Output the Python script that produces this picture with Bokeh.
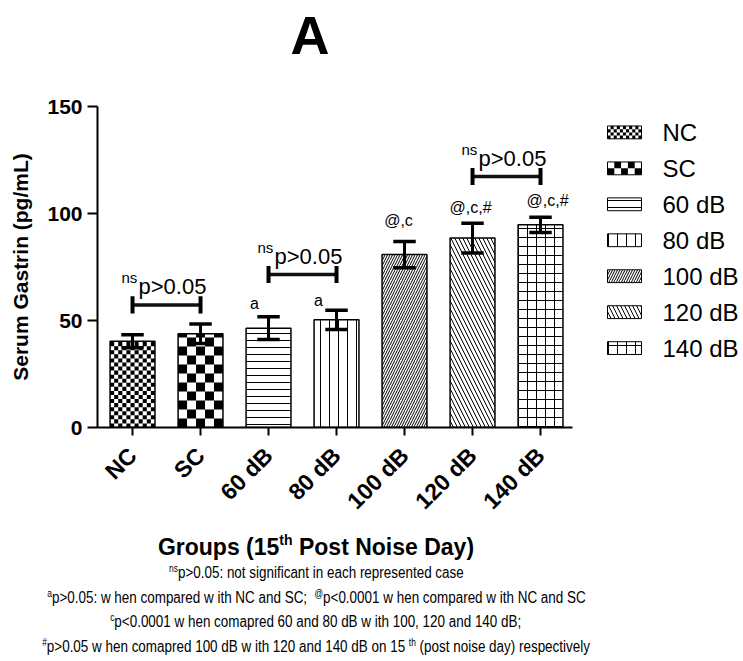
import numpy as np
from math import pi
from bokeh.plotting import figure
from bokeh.models import Range1d, FixedTicker, Div, ColumnDataSource
from bokeh.layouts import column
from bokeh.embed import file_html
from bokeh.resources import INLINE
from bokeh.core.properties import value

# ---------------- data ----------------
groups = ["NC", "SC", "60 dB", "80 dB", "100 dB", "120 dB", "140 dB"]
means = [40.3, 43.8, 46.4, 50.3, 80.8, 88.5, 94.7]
sems = [3.0, 4.6, 5.3, 4.5, 6.1, 7.0, 3.6]
sig_letters = ["", "", "a", "a", "@,c", "@,c,#", "@,c,#"]
ns_pairs = [(0, 1), (2, 3), (5, 6)]
ns_heights = [57.3, 71.5, 117.3]
ns_sup = "ns"
ns_text = "p>0.05"
y_ticks = [0, 50, 100, 150]
title_text = "A"
y_title = "Serum Gastrin (pg/mL)"
x_title = ("Groups (15", "th", " Post Noise Day)")
footnotes = [
    [("ns", True), ("p&gt;0.05: not significant in each represented case", False)],
    [("a", True), ("p&gt;0.05: w hen compared w ith NC and SC;&nbsp; ", False), ("@", True),
     ("p&lt;0.0001 w hen compared w ith NC and SC", False)],
    [("c", True), ("p&lt;0.0001 w hen comapred 60 and 80 dB w ith 100, 120 and 140 dB;", False)],
    [("#", True), ("p&gt;0.05 w hen comapred 100 dB w ith 120 and 140 dB on 15 ", False), ("th", True),
     (" (post noise day) respectively", False)],
]

# ---------------- styles ----------------
patterns = [" ", " ", "horizontal_line", "vertical_line", "right_diagonal_line", "left_diagonal_line", "cross"]
hatch_scales = [8, 8, 7, 9, 5, 8, 9]
checker = {0: (11, 1.9), 1: (5, 4.2)}          # bar index -> (columns, cell height in data units)
legend_checker = {0: (11, 1.5), 1: (5, 3.0)}
bar_w = 0.66
cap_w = 0.165
letter_dx = [0, 0, -14, -18, -6, -2, 7]
letter_dy = [0, 0, -13, -10, -21, -16, -17]
FONT = "Liberation Sans"

n = len(groups)
xs = np.arange(1, n + 1, dtype=float)
means_a = np.array(means)
sems_a = np.array(sems)
hi = means_a + sems_a
lo = means_a - sems_a

W = 740
TOP_H = 70                 # height of the title strip above the figure
FRAME_TOP, FRAME_BOT = 106, 427
FIG_BOTTOM = 532           # page y where the figure ends
FIG_H = FIG_BOTTOM - TOP_H
x_start = 0.485
x_end = x_start + (W - 97) / 68.0

p = figure(width=W, height=FIG_H, x_range=Range1d(x_start, x_end), y_range=Range1d(0, 150),
           output_backend="svg", toolbar_location=None,
           min_border_left=97, min_border_right=0, min_border_top=FRAME_TOP - TOP_H,
           min_border_bottom=FIG_BOTTOM - FRAME_BOT)
p.outline_line_color = None
p.grid.visible = False

xa = p.xaxis[0]
xa.ticker = FixedTicker(ticks=list(xs))
xa.major_label_overrides = {int(x): g for x, g in zip(xs, groups)}
xa.bounds = (x_start, n + 0.47)
xa.minor_tick_line_color = None
xa.major_tick_out = 8
xa.major_tick_in = 0
xa.major_tick_line_width = 2
xa.axis_line_width = 2
xa.major_label_orientation = pi / 4
xa.major_label_text_font = FONT
xa.major_label_text_font_style = "bold"
xa.major_label_text_font_size = "23px"
xa.major_label_text_color = "black"
xa.major_label_standoff = 16

ya = p.yaxis[0]
ya.ticker = FixedTicker(ticks=y_ticks)
ya.minor_tick_line_color = None
ya.major_tick_out = 10
ya.major_tick_in = 0
ya.major_tick_line_width = 2
ya.axis_line_width = 2
ya.major_label_text_font = FONT
ya.major_label_text_font_style = "bold"
ya.major_label_text_font_size = "21px"
ya.major_label_text_color = "black"
ya.major_label_standoff = 5
ya.axis_label = y_title
ya.axis_label_text_font = FONT
ya.axis_label_text_font_style = "bold"
ya.axis_label_text_font_size = "21px"
ya.axis_label_text_color = "black"
ya.axis_label_standoff = 12


def checker_quads(x0, x1, y0, y1, ncols, ch):
    L, R, B, T = [], [], [], []
    cw = (x1 - x0) / ncols
    nrows = int(np.ceil((y1 - y0) / ch))
    for r in range(nrows):
        for c in range(ncols):
            if (r + c) % 2 == 0:
                L.append(x0 + c * cw)
                R.append(x0 + (c + 1) * cw)
                B.append(y0 + r * ch)
                T.append(min(y0 + (r + 1) * ch, y1))
    return L, R, B, T


# bars (hatched)
src = ColumnDataSource(dict(x=xs, top=means_a, pat=patterns, sc=hatch_scales))
p.vbar(x="x", top="top", width=bar_w, source=src, fill_color="white", line_color=None,
       hatch_pattern="pat", hatch_scale="sc", hatch_color="black", hatch_weight=1)
# checker fills
for i, (nc, ch) in checker.items():
    L, R, B, T = checker_quads(xs[i] - bar_w / 2, xs[i] + bar_w / 2, 0, means[i], nc, ch)
    p.quad(left=L, right=R, bottom=B, top=T, fill_color="black", line_color=None)
# outlines
p.vbar(x=xs, top=means_a, width=bar_w, fill_color=None, line_color="black", line_width=1.5)

# error bars
p.segment(x0=xs, y0=lo, x1=xs, y1=hi, line_color="black", line_width=3)
p.segment(x0=xs - cap_w, y0=hi, x1=xs + cap_w, y1=hi, line_color="black", line_width=3.5)
p.segment(x0=xs - cap_w, y0=lo, x1=xs + cap_w, y1=lo, line_color="black", line_width=3.5)

# significance letters
p.text(x=xs, y=hi, text=sig_letters, x_offset=letter_dx, y_offset=letter_dy,
       text_align="center", text_baseline="middle", text_font=value(FONT),
       text_font_size="16px", text_color="black")

# ns brackets
bx0 = np.array([xs[a] for a, b in ns_pairs])
bx1 = np.array([xs[b] for a, b in ns_pairs])
bh = np.array(ns_heights)
p.segment(x0=bx0, y0=bh, x1=bx1, y1=bh, line_color="#111111", line_width=3.5)
p.segment(x0=bx0, y0=bh - 4, x1=bx0, y1=bh + 4, line_color="black", line_width=4)
p.segment(x0=bx1, y0=bh - 4, x1=bx1, y1=bh + 4, line_color="black", line_width=4)
bc = (bx0 + bx1) / 2
p.text(x=bc, y=bh, text=[ns_text] * len(bc), x_offset=-28, y_offset=-18, text_align="left",
       text_baseline="alphabetic", text_font=value(FONT), text_font_size="22px", text_color="black")
p.text(x=bc, y=bh, text=[ns_sup] * len(bc), x_offset=-45, y_offset=-27, text_align="left",
       text_baseline="alphabetic", text_font=value(FONT), text_font_size="15px", text_color="black")

# legend (drawn inside the wide frame)
leg_x0, leg_x1, leg_tx = 7.985, 8.485, 8.794
leg_y0, leg_step, leg_h = 137.9, 16.8, 3.0
ly = leg_y0 - leg_step * np.arange(n)
lsrc = ColumnDataSource(dict(l=[leg_x0] * n, r=[leg_x1] * n, b=ly - leg_h, t=ly + leg_h,
                             pat=patterns, sc=hatch_scales))
p.quad(left="l", right="r", bottom="b", top="t", source=lsrc, fill_color="white", line_color=None,
       hatch_pattern="pat", hatch_scale="sc", hatch_color="black", hatch_weight=1)
for i, (nc, ch) in legend_checker.items():
    L, R, B, T = checker_quads(leg_x0, leg_x1, ly[i] - leg_h, ly[i] + leg_h, nc, ch)
    p.quad(left=L, right=R, bottom=B, top=T, fill_color="black", line_color=None)
p.quad(left=[leg_x0] * n, right=[leg_x1] * n, bottom=ly - leg_h, top=ly + leg_h,
       fill_color=None, line_color="black", line_width=1)
p.text(x=[leg_tx] * n, y=ly, text=groups, text_align="left", text_baseline="middle",
       text_font=value(FONT), text_font_size="24px", text_color="black")

# panel title strip
title_div = Div(text=(f'<div style="width:620px;text-align:center;font-family:\'Liberation Sans\',Arial,sans-serif;'
                      f'font-weight:bold;font-size:54px;line-height:{TOP_H}px;color:#000;">{title_text}</div>'),
                width=W, height=TOP_H, margin=(0, 0, 0, 0))

# x-axis title and footnotes
sup_style = "font-size:10px;vertical-align:6px;line-height:0"
lines_html = []
for parts in footnotes:
    s = ""
    for t, sup in parts:
        s += f'<span style="{sup_style}">{t}</span>' if sup else t
    lines_html.append('<div style="font-size:16px;line-height:24.5px;white-space:nowrap;display:flex;justify-content:center">'
                      f'<span style="display:inline-block;transform:scaleX(0.84)">{s}</span></div>')
top_gap = 534 - FIG_BOTTOM
html = (f'<div style="width:632px;font-family:\'Liberation Sans\',Arial,sans-serif;color:#000;">'
        f'<div style="font-weight:bold;font-size:23px;line-height:26px;margin-top:{top_gap}px;margin-bottom:1px;'
        f'white-space:nowrap;display:flex;justify-content:center"><span>{x_title[0]}'
        f'<span style="font-size:14px;vertical-align:10px;line-height:0">{x_title[1]}</span>{x_title[2]}</span></div>'
        + "".join(lines_html) + '</div>')
div = Div(text=html, width=W, height=661 - FIG_BOTTOM, margin=(0, 0, 0, 0))

layout = column(title_div, p, div, spacing=0)
open("out.html", "w").write(file_html(layout, INLINE))
